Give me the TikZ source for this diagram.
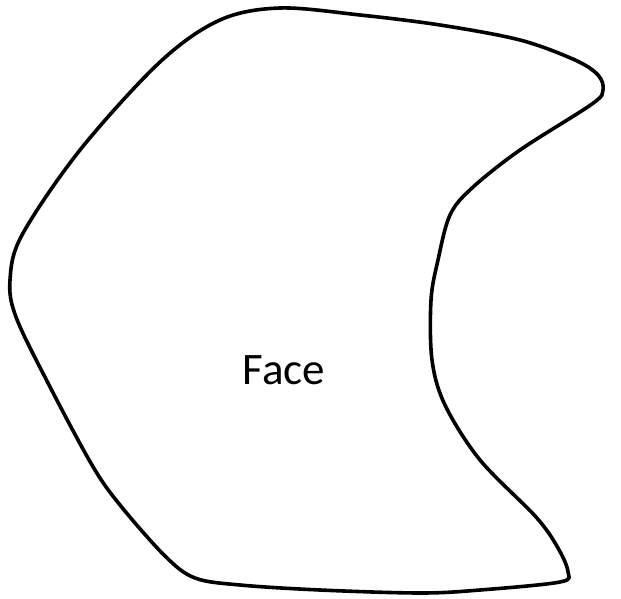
\documentclass[tikz,border=0pt]{standalone}
\usepackage{fontspec}
\setmainfont{Carlito}
\begin{document}
\begin{tikzpicture}[x=1pt,y=-1pt,
  outline/.style={draw=black,line width=3.6pt,line join=round}]
\useasboundingbox (0,0) rectangle (621,599);
\draw[outline] plot[smooth cycle, tension=0.55] coordinates {
(280,8) (360,15) (440,25) (520,40) (575,60) (598,75) (603,90) (592,104)
(520,150) (472,188) (450,215) (438,260) (431,300) (432,360) (445,405)
(480,460) (536,517) (558,548) (568,572) (560,582) (480,590) (420,593)
(320,590) (240,585) (195,578) (165,556) (120,505) (92,465) (48,383)
(16,317) (10,280) (22,235) (80,150) (160,62) (220,20)};
\node[font=\fontsize{45}{54}\selectfont,inner sep=0pt] (face) at (284,370) {Face};
\end{tikzpicture}
\end{document}
